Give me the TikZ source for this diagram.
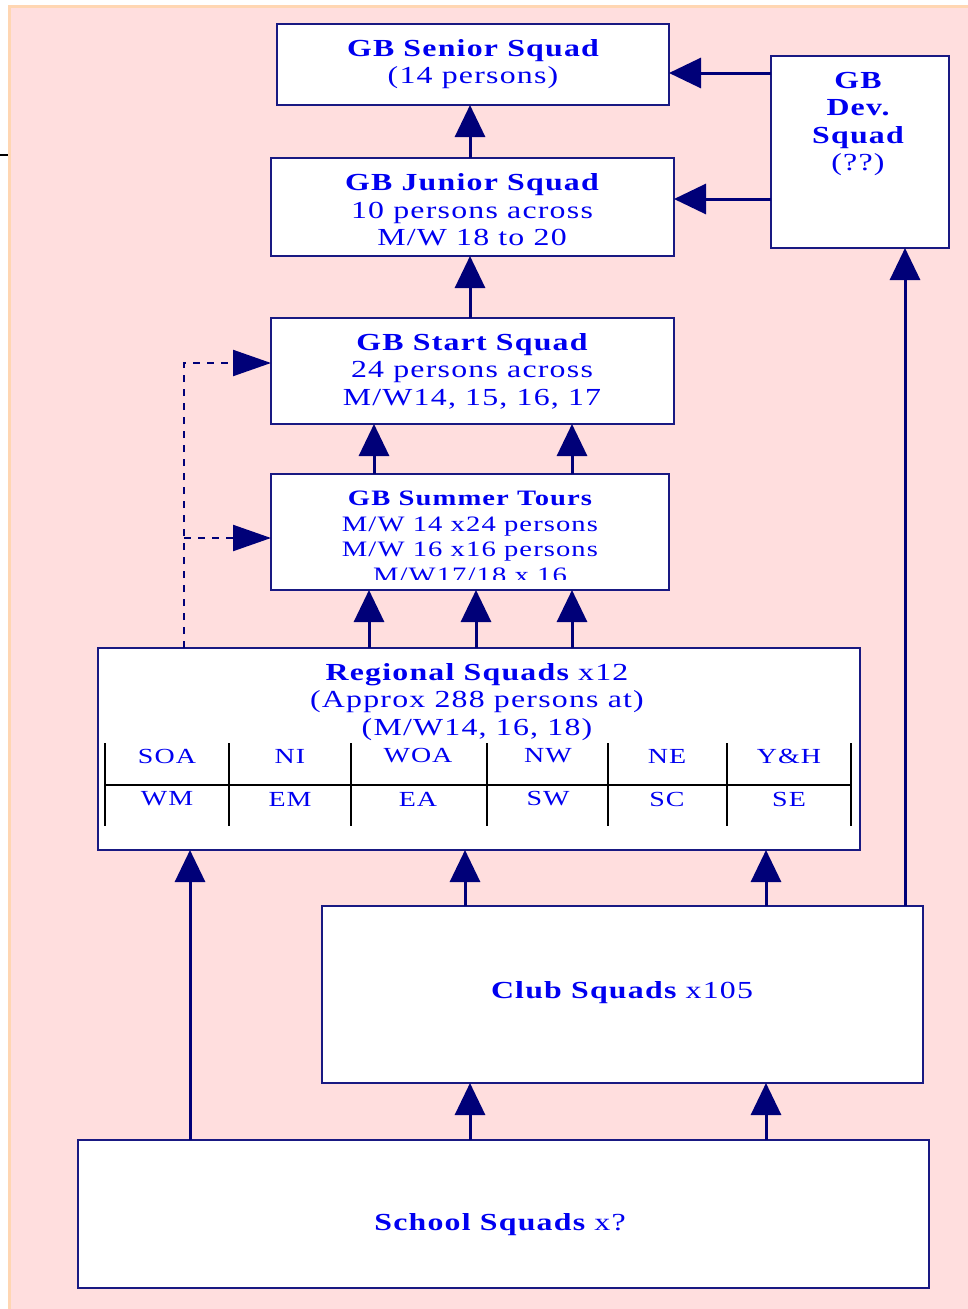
\documentclass[tikz,border=0pt]{standalone}
\usepackage{fontspec}
\newfontfamily\wf[FakeStretch=1.3,LetterSpace=5]{Liberation Serif}
\usetikzlibrary{arrows.meta}
\definecolor{bgpink}{RGB}{255,222,222}
\definecolor{bgedge}{RGB}{255,214,178}
\definecolor{navyb}{RGB}{25,25,130}
\definecolor{arrnavy}{RGB}{0,0,120}
\definecolor{txtblue}{RGB}{0,0,240}
\begin{document}
\begin{tikzpicture}[x=1pt,y=-1pt,
 box/.style={draw=navyb,fill=white,line width=2.5pt,inner sep=0pt,outer sep=0pt,rectangle},
 lbl/.style={text=txtblue,align=center,inner sep=0pt,font=\wf\fontsize{24.5}{27.5}\selectfont},
 slbl/.style={text=txtblue,align=center,inner sep=0pt,font=\wf\fontsize{22}{25.5}\selectfont},
 arr/.style={draw=arrnavy,line width=3pt,-{Triangle[length=32pt,width=30pt]}},
 dsh/.style={draw=arrnavy,line width=2.2pt,dash pattern=on 7pt off 7pt,-{Triangle[length=38pt,width=26pt]}},
 gridln/.style={draw=black,line width=2.5pt},
 cell/.style={text=txtblue,inner sep=0pt,font=\wf\fontsize{21.5}{24}\selectfont}]
\useasboundingbox (0,0) rectangle (968,1309);
% background
\fill[bgpink] (8,8) rectangle (968,1309);
\draw[bgedge,line width=3pt] (9.5,1309) -- (9.5,6.5) -- (968,6.5);
\draw[black,line width=2pt] (0,155) -- (8,155);

% boxes
\node[box,minimum width=392pt,minimum height=81pt] (senior) at (473,64.5) {};
\node[box,minimum width=178pt,minimum height=192pt] (dev) at (860,152) {};
\node[box,minimum width=403pt,minimum height=98pt] (junior) at (472.5,207) {};
\node[box,minimum width=403pt,minimum height=106pt] (start) at (472.5,371) {};
\node[box,minimum width=398pt,minimum height=116pt] (summer) at (470,532) {};
\node[box,minimum width=762pt,minimum height=202pt] (regional) at (479,749) {};
\node[box,minimum width=601pt,minimum height=177pt] (club) at (622.5,994.5) {};
\node[box,minimum width=851pt,minimum height=148pt] (school) at (503.5,1214) {};

% texts
\node[lbl] (seniort) at (473,64) {{\bfseries GB Senior Squad}\\(14 persons)};
\node[lbl] (devt) at (858,124) {{\bfseries GB}\\{\bfseries Dev.}\\{\bfseries Squad}\\(??)};
\node[lbl] (juniort) at (472,210) {{\bfseries GB Junior Squad}\\10 persons across\\M/W 18 to 20};
\node[lbl] (startt) at (472,371) {{\bfseries GB Start Squad}\\24 persons across\\M/W14, 15, 16, 17};
\begin{scope}
\clip (272,475) rectangle (668,579);
\node[slbl] (summert) at (470,537) {{\bfseries GB Summer Tours}\\M/W 14 x24 persons\\M/W 16 x16 persons\\M/W17/18 x 16};
\end{scope}
\node[lbl] (regionalt) at (477,702) {{\bfseries Regional Squads} x12\\(Approx 288 persons at)\\(M/W14, 16, 18)};
\node[lbl] (clubt) at (622,993) {{\bfseries Club Squads} x105};
\node[lbl] (schoolt) at (500,1225) {{\bfseries School Squads} x?};

% region table
\foreach \xx in {105,229,351,487,608,727,851} \draw[gridln] (\xx,743) -- (\xx,826);
\draw[gridln] (105,785) -- (851,785);
\foreach \nm/\xx/\tt in {c1/167/SOA,c2/290/NI,c3/418/WOA,c4/548/NW,c5/667/NE,c6/789/Y\&H}
  \node[cell] (\nm) at (\xx,756) {\tt};
\foreach \nm/\xx/\tt in {d1/167/WM,d2/290/EM,d3/418/EA,d4/548/SW,d5/667/SC,d6/789/SE}
  \node[cell] (\nm) at (\xx,799) {\tt};

% arrow tip coordinates
\coordinate (tJS) at ([xshift=-3pt]senior.south);
\coordinate (tSJ) at ([xshift=-2.5pt]junior.south);
\coordinate (tU1) at ([xshift=103pt]start.south west);
\coordinate (tU2) at ([xshift=301pt]start.south west);
\coordinate (tR1) at ([xshift=98pt]summer.south west);
\coordinate (tR2) at ([xshift=205pt]summer.south west);
\coordinate (tR3) at ([xshift=301pt]summer.south west);
\coordinate (tC1) at ([xshift=367pt]regional.south west);
\coordinate (tC2) at ([xshift=668pt]regional.south west);
\coordinate (tCD) at ([xshift=134pt]dev.south west);
\coordinate (tS1) at ([xshift=92pt]regional.south west);
\coordinate (tS2) at ([xshift=148pt]club.south west);
\coordinate (tS3) at ([xshift=444pt]club.south west);
\coordinate (sD1) at ([yshift=-17pt]dev.north west);
\coordinate (sD2) at ([yshift=8pt]junior.east -| dev.west);
\coordinate (dd) at ([xshift=86pt]regional.north west);
\coordinate (tDa) at ([yshift=8pt]start.west);
\coordinate (tDb) at ([yshift=-6pt]summer.west);

% connectors
\draw[arr] (junior.north -| tJS) -- (tJS);
\draw[arr] (start.north -| tSJ) -- (tSJ);
\draw[arr] (summer.north -| tU1) -- (tU1);
\draw[arr] (summer.north -| tU2) -- (tU2);
\draw[arr] (regional.north -| tR1) -- (tR1);
\draw[arr] (regional.north -| tR2) -- (tR2);
\draw[arr] (regional.north -| tR3) -- (tR3);
\draw[arr] (club.north -| tC1) -- (tC1);
\draw[arr] (club.north -| tC2) -- (tC2);
\draw[arr] (club.north -| tCD) -- (tCD);
\draw[arr] (school.north -| tS1) -- (tS1);
\draw[arr] (school.north -| tS2) -- (tS2);
\draw[arr] (school.north -| tS3) -- (tS3);
\draw[arr] (sD1) -- (sD1 -| senior.east);
\draw[arr] (sD2) -- (sD2 -| junior.east);
\draw[dsh] (dd) |- (tDa);
\draw[dsh] (dd |- tDb) -- (tDb);
\end{tikzpicture}
\end{document}
